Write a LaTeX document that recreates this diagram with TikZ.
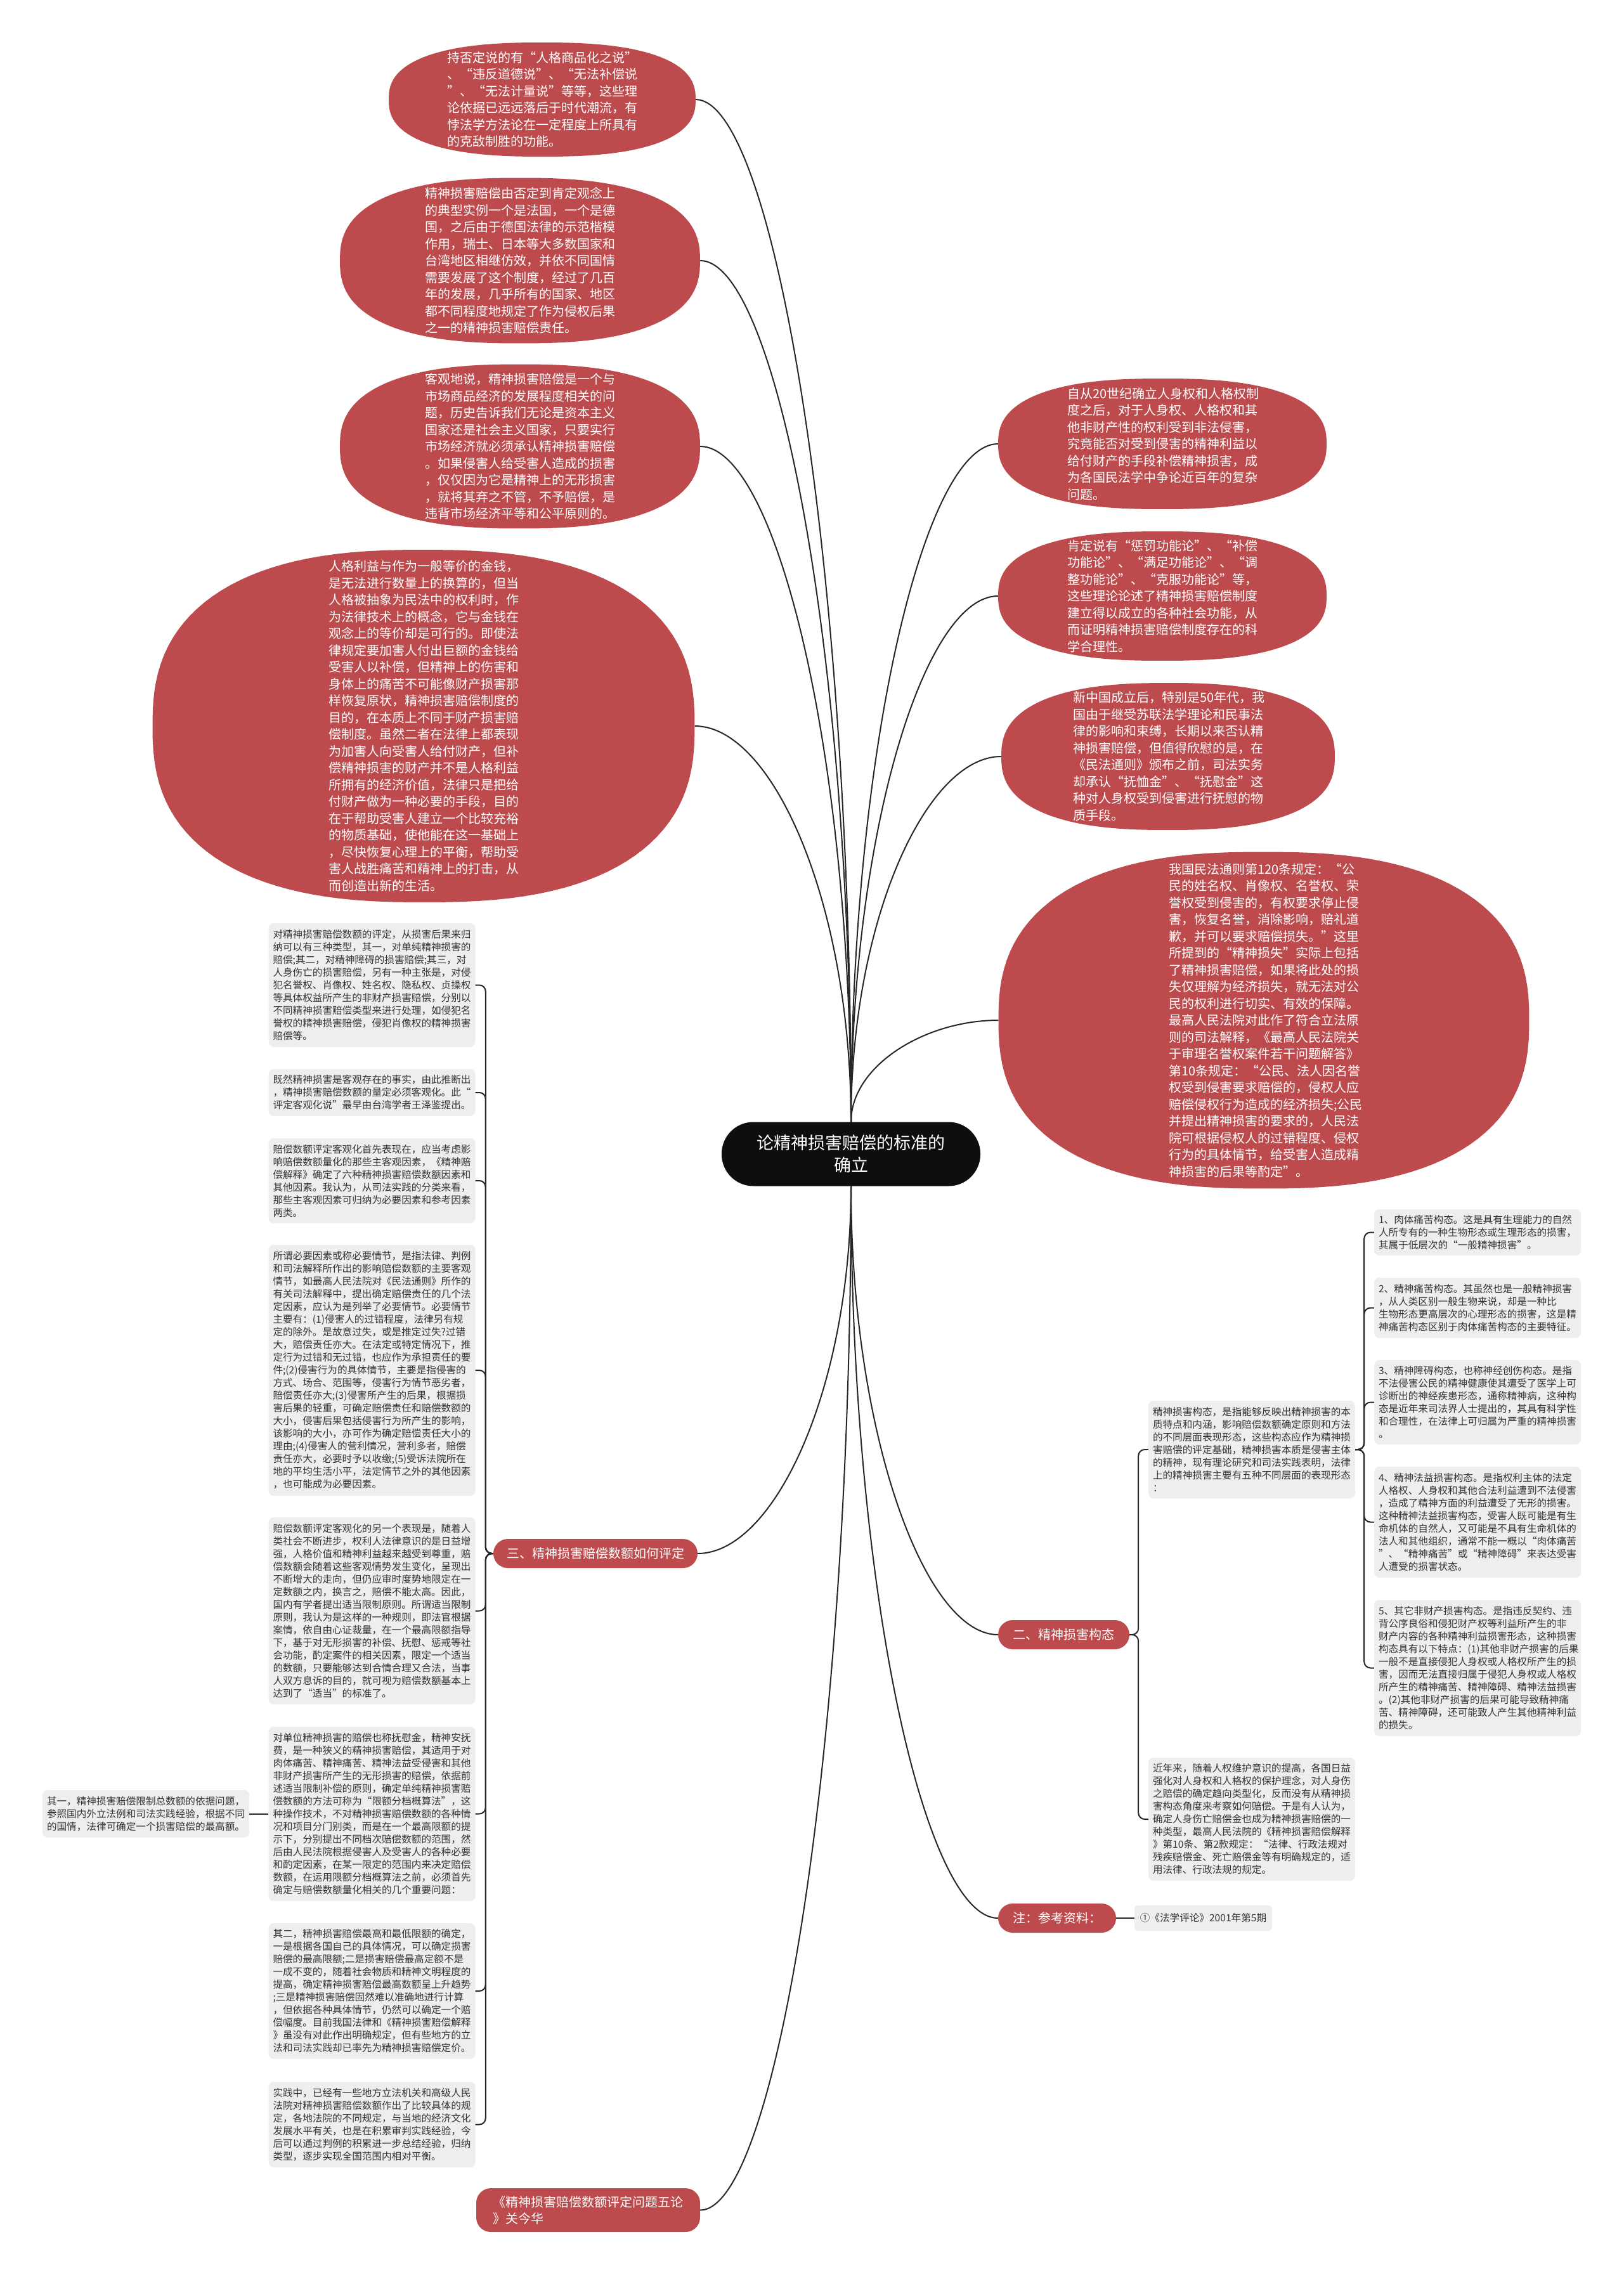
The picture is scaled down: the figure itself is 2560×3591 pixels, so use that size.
\documentclass[tikz,border=0pt]{standalone}
\usepackage{fontspec}
\setmainfont{Noto Sans CJK SC}
\usetikzlibrary{calc}
\definecolor{leaf}{RGB}{189,75,77}
\definecolor{cardgray}{RGB}{238,238,238}
\definecolor{ink}{RGB}{51,51,51}
\definecolor{rootblack}{RGB}{14,14,14}
\newcommand\cardfont{\fontsize{15.6}{20}\selectfont}
\newcommand\blobfont{\fontsize{20}{26.5}\selectfont}
\newcommand\pillfont{\fontsize{20}{26}\selectfont}
\newcommand\rootfont{\fontsize{27}{35}\selectfont}
% red rounded blob: name, centre x, centre y, width, height; node text follows
\newcommand\blob[5]{%
  \fill[leaf] plot[domain=1:361,samples=121,variable=\t]
    ({#2+#4/2*cos(\t)*abs(cos(\t))^(-0.2)},{#3+#5/2*sin(\t)*abs(sin(\t))^(-0.2)}) -- cycle;
  \node[blobtext,minimum width=#4pt,minimum height=#5pt] (#1) at (#2,#3)}
\tikzset{
  link/.style={draw=black!85,line width=2pt},
  card/.style={fill=cardgray,rounded corners=8pt,text=ink,font=\cardfont,align=left,
    text width=312pt,inner xsep=7pt,inner ysep=0pt,minimum height=#1pt},
  pill/.style={fill=leaf,text=white,font=\pillfont,rounded corners=23pt,align=left,
    minimum height=46pt,minimum width=#1pt,inner sep=0pt},
  blobtext/.style={inner sep=0pt,text=white,font=\blobfont,align=left,text width=300pt},
}

\begin{document}
\begin{tikzpicture}[x=1pt,y=-1pt]
\useasboundingbox (0,0) rectangle (2560,3591);
\fill[white] (0,0) rectangle (2560,3591);

\node[fill=rootblack,text=white,font=\rootfont,rounded corners=50pt,align=center,
  minimum width=408pt,minimum height=101pt] (root) at (1342,1820)
  {论精神损害赔偿的标准的\\确立};

% upper left
\blob{e1}{855}{157}{484}{180} {持否定说的有“人格商品化之说”\\、“违反道德说”、“无法补偿说\\”、“无法计量说”等等，这些理\\论依据已远远落后于时代潮流，有\\悖法学方法论在一定程度上所具有\\的克敌制胜的功能。};
\blob{e2}{820}{411}{568}{261} {精神损害赔偿由否定到肯定观念上\\的典型实例一个是法国，一个是德\\国，之后由于德国法律的示范楷模\\作用，瑞士、日本等大多数国家和\\台湾地区相继仿效，并依不同国情\\需要发展了这个制度，经过了几百\\年的发展，几乎所有的国家、地区\\都不同程度地规定了作为侵权后果\\之一的精神损害赔偿责任。};
\blob{e3}{820}{704}{568}{259} {客观地说，精神损害赔偿是一个与\\市场商品经济的发展程度相关的问\\题，历史告诉我们无论是资本主义\\国家还是社会主义国家，只要实行\\市场经济就必须承认精神损害赔偿\\。如果侵害人给受害人造成的损害\\，仅仅因为它是精神上的无形损害\\，就将其弃之不管，不予赔偿，是\\违背市场经济平等和公平原则的。};
\blob{e4}{668}{1145}{855}{556} {人格利益与作为一般等价的金钱，\\是无法进行数量上的换算的，但当\\人格被抽象为民法中的权利时，作\\为法律技术上的概念，它与金钱在\\观念上的等价却是可行的。即使法\\律规定要加害人付出巨额的金钱给\\受害人以补偿，但精神上的伤害和\\身体上的痛苦不可能像财产损害那\\样恢复原状，精神损害赔偿制度的\\目的，在本质上不同于财产损害赔\\偿制度。虽然二者在法律上都表现\\为加害人向受害人给付财产，但补\\偿精神损害的财产并不是人格利益\\所拥有的经济价值，法律只是把给\\付财产做为一种必要的手段，目的\\在于帮助受害人建立一个比较充裕\\的物质基础，使他能在这一基础上\\，尽快恢复心理上的平衡，帮助受\\害人战胜痛苦和精神上的打击，从\\而创造出新的生活。};

% upper right
\blob{r1}{1833}{700}{518}{206} {自从20世纪确立人身权和人格权制\\度之后，对于人身权、人格权和其\\他非财产性的权利受到非法侵害，\\究竟能否对受到侵害的精神利益以\\给付财产的手段补偿精神损害，成\\为各国民法学中争论近百年的复杂\\问题。};
\blob{r2}{1833}{940}{518}{204} {肯定说有“惩罚功能论”、“补偿\\功能论”、“满足功能论”、“调\\整功能论”、“克服功能论”等，\\这些理论论述了精神损害赔偿制度\\建立得以成立的各种社会功能，从\\而证明精神损害赔偿制度存在的科\\学合理性。};
\blob{r3}{1842}{1193}{526}{232} {新中国成立后，特别是50年代，我\\国由于继受苏联法学理论和民事法\\律的影响和束缚，长期以来否认精\\神损害赔偿，但值得欣慰的是，在\\《民法通则》颁布之前，司法实务\\却承认“抚恤金”、“抚慰金”这\\种对人身权受到侵害进行抚慰的物\\质手段。};
\blob{r4}{1993}{1609}{837}{531} {我国民法通则第120条规定：“公\\民的姓名权、肖像权、名誉权、荣\\誉权受到侵害的，有权要求停止侵\\害，恢复名誉，消除影响，赔礼道\\歉，并可以要求赔偿损失。”这里\\所提到的“精神损失”实际上包括\\了精神损害赔偿，如果将此处的损\\失仅理解为经济损失，就无法对公\\民的权利进行切实、有效的保障。\\最高人民法院对此作了符合立法原\\则的司法解释，《最高人民法院关\\于审理名誉权案件若干问题解答》\\第10条规定：“公民、法人因名誉\\权受到侵害要求赔偿的，侵权人应\\赔偿侵权行为造成的经济损失;公民\\并提出精神损害的要求的，人民法\\院可根据侵权人的过错程度、侵权\\行为的具体情节，给受害人造成精\\神损害的后果等酌定”。};

% branches
\node[pill=322] (three) at (939,2450) {三、精神损害赔偿数额如何评定};
\node[pill=207] (two) at (1677.5,2578) {二、精神损害构态};
\node[pill=186] (note) at (1667,3025) {注：参考资料：};
\node[pill=353,minimum height=69pt] (bib) at (927.5,3485.5) {《精神损害赔偿数额评定问题五论\\》关今华};

% left column
\node[card=195] (b1) at (586.5,1553.5) {对精神损害赔偿数额的评定，从损害后果来归\\纳可以有三种类型，其一，对单纯精神损害的\\赔偿;其二，对精神障碍的损害赔偿;其三，对\\人身伤亡的损害赔偿，另有一种主张是，对侵\\犯名誉权、肖像权、姓名权、隐私权、贞操权\\等具体权益所产生的非财产损害赔偿，分别以\\不同精神损害赔偿类型来进行处理，如侵犯名\\誉权的精神损害赔偿，侵犯肖像权的精神损害\\赔偿等。};
\node[card=74] (b2) at (586.5,1723) {既然精神损害是客观存在的事实，由此推断出\\，精神损害赔偿数额的量定必须客观化。此“\\评定客观化说”最早由台湾学者王泽鉴提出。};
\node[card=134] (b3) at (586.5,1862) {赔偿数额评定客观化首先表现在，应当考虑影\\响赔偿数额量化的那些主客观因素，《精神赔\\偿解释》确定了六种精神损害赔偿数额因素和\\其他因素。我认为，从司法实践的分类来看，\\那些主客观因素可归纳为必要因素和参考因素\\两类。};
\node[card=396] (b4) at (586.5,2161) {所谓必要因素或称必要情节，是指法律、判例\\和司法解释所作出的影响赔偿数额的主要客观\\情节，如最高人民法院对《民法通则》所作的\\有关司法解释中，提出确定赔偿责任的几个法\\定因素，应认为是列举了必要情节。必要情节\\主要有：(1)侵害人的过错程度，法律另有规\\定的除外。是故意过失，或是推定过失?过错\\大，赔偿责任亦大。在法定或特定情况下，推\\定行为过错和无过错，也应作为承担责任的要\\件;(2)侵害行为的具体情节，主要是指侵害的\\方式、场合、范围等，侵害行为情节恶劣者，\\赔偿责任亦大;(3)侵害所产生的后果，根据损\\害后果的轻重，可确定赔偿责任和赔偿数额的\\大小，侵害后果包括侵害行为所产生的影响，\\该影响的大小，亦可作为确定赔偿责任大小的\\理由;(4)侵害人的营利情况，营利多者，赔偿\\责任亦大，必要时予以收缴;(5)受诉法院所在\\地的平均生活小平，法定情节之外的其他因素\\，也可能成为必要因素。};
\node[card=295] (b5) at (586.5,2540.5) {赔偿数额评定客观化的另一个表现是，随着人\\类社会不断进步，权利人法律意识的是日益增\\强，人格价值和精神利益越来越受到尊重，赔\\偿数额会随着这些客观情势发生变化，呈现出\\不断增大的走向，但仍应审时度势地限定在一\\定数额之内，换言之，赔偿不能太高。因此，\\国内有学者提出适当限制原则。所谓适当限制\\原则，我认为是这样的一种规则，即法官根据\\案情，依自由心证裁量，在一个最高限额指导\\下，基于对无形损害的补偿、抚慰、惩戒等社\\会功能，酌定案件的相关因素，限定一个适当\\的数额，只要能够达到合情合理又合法，当事\\人双方息诉的目的，就可视为赔偿数额基本上\\达到了“适当”的标准了。};
\node[card=275] (b6) at (586.5,2860.5) {对单位精神损害的赔偿也称抚慰金，精神安抚\\费，是一种狭义的精神损害赔偿，其适用于对\\肉体痛苦、精神痛苦、精神法益受侵害和其他\\非财产损害所产生的无形损害的赔偿，依据前\\述适当限制补偿的原则，确定单纯精神损害赔\\偿数额的方法可称为“限额分档概算法”，这\\种操作技术，不对精神损害赔偿数额的各种情\\况和项目分门别类，而是在一个最高限额的提\\示下，分别提出不同档次赔偿数额的范围，然\\后由人民法院根据侵害人及受害人的各种必要\\和酌定因素，在某一限定的范围内来决定赔偿\\数额，在运用限额分档概算法之前，必须首先\\确定与赔偿数额量化相关的几个重要问题：};
\node[card=214] (b7) at (586.5,3140) {其二，精神损害赔偿最高和最低限额的确定，\\一是根据各国自己的具体情况，可以确定损害\\赔偿的最高限额;二是损害赔偿最高定额不是\\一成不变的，随着社会物质和精神文明程度的\\提高，确定精神损害赔偿最高数额呈上升趋势\\;三是精神损害赔偿固然难以准确地进行计算\\，但依据各种具体情节，仍然可以确定一个赔\\偿幅度。目前我国法律和《精神损害赔偿解释\\》虽没有对此作出明确规定，但有些地方的立\\法和司法实践却已率先为精神损害赔偿定价。};
\node[card=135] (b8) at (586.5,3350.5) {实践中，已经有一些地方立法机关和高级人民\\法院对精神损害赔偿数额作出了比较具体的规\\定，各地法院的不同规定，与当地的经济文化\\发展水平有关，也是在积累审判实践经验，今\\后可以通过判例的积累进一步总结经验，归纳\\类型，逐步实现全国范围内相对平衡。};
\node[card=75] (far) at (230,2860.5) {其一，精神损害赔偿限制总数额的依据问题，\\参照国内外立法例和司法实践经验，根据不同\\的国情，法律可确定一个损害赔偿的最高额。};

% right side
\node[card=154] (d1) at (1974,2286) {精神损害构态，是指能够反映出精神损害的本\\质特点和内涵，影响赔偿数额确定原则和方法\\的不同层面表现形态，这些构态应作为精神损\\害赔偿的评定基础，精神损害本质是侵害主体\\的精神，现有理论研究和司法实践表明，法律\\上的精神损害主要有五种不同层面的表现形态\\：};
\node[card=194] (d2) at (1974,2869) {近年来，随着人权维护意识的提高，各国日益\\强化对人身权和人格权的保护理念，对人身伤\\之赔偿的确定趋向类型化，反而没有从精神损\\害构态角度来考察如何赔偿。于是有人认为，\\确定人身伤亡赔偿金也成为精神损害赔偿的一\\种类型，最高人民法院的《精神损害赔偿解释\\》第10条、第2款规定：“法律、行政法规对\\残疾赔偿金、死亡赔偿金等有明确规定的，适\\用法律、行政法规的规定。};
\node[card=73] (c1) at (2330,1943.5) {1、肉体痛苦构态。这是具有生理能力的自然\\人所专有的一种生物形态或生理形态的损害，\\其属于低层次的“一般精神损害”。};
\node[card=95] (c2) at (2330,2062.5) {2、精神痛苦构态。其虽然也是一般精神损害\\，从人类区别一般生物来说，却是一种比\\生物形态更高层次的心理形态的损害，这是精\\神痛苦构态区别于肉体痛苦构态的主要特征。};
\node[card=133] (c3) at (2330,2211.5) {3、精神障碍构态，也称神经创伤构态。是指\\不法侵害公民的精神健康使其遭受了医学上可\\诊断出的神经疾患形态，通称精神病，这种构\\态是近年来司法界人士提出的，其具有科学性\\和合理性，在法律上可归属为严重的精神损害\\。};
\node[card=175] (c4) at (2330,2400.5) {4、精神法益损害构态。是指权利主体的法定\\人格权、人身权和其他合法利益遭到不法侵害\\，造成了精神方面的利益遭受了无形的损害。\\这种精神法益损害构态，受害人既可能是有生\\命机体的自然人，又可能是不具有生命机体的\\法人和其他组织，通常不能一概以“肉体痛苦\\”、“精神痛苦”或“精神障碍”来表达受害\\人遭受的损害状态。};
\node[card=215] (c5) at (2330,2630.5) {5、其它非财产损害构态。是指违反契约、违\\背公序良俗和侵犯财产权等利益所产生的非\\财产内容的各种精神利益损害形态，这种损害\\构态具有以下特点：(1)其他非财产损害的后果\\一般不是直接侵犯人身权或人格权所产生的损\\害，因而无法直接归属于侵犯人身权或人格权\\所产生的精神痛苦、精神障碍、精神法益损害\\。(2)其他非财产损害的后果可能导致精神痛\\苦、精神障碍，还可能致人产生其他精神利益\\的损失。};
\node[fill=cardgray,rounded corners=6pt,text=ink,font=\cardfont,minimum width=217pt,
  minimum height=40pt,inner sep=0pt] (ref) at (1897.5,3025) {①《法学评论》2001年第5期};

% links from the root
\foreach \n in {e1,e2,e3,e4}
  \draw[link] (root.north) .. controls ($(root.north)!0.55!(root.north |- \n.east)$)
    and ($(\n.east)!0.5!(root.north |- \n.east)$) .. (\n.east);
\foreach \n in {r1,r2,r3,r4}
  \draw[link] (root.north) .. controls ($(root.north)!0.55!(root.north |- \n.west)$)
    and ($(\n.west)!0.5!(root.north |- \n.west)$) .. (\n.west);
\foreach \n in {three,bib}
  \draw[link] (root.south) .. controls ($(root.south)!0.55!(root.south |- \n.east)$)
    and ($(\n.east)!0.5!(root.south |- \n.east)$) .. (\n.east);
\foreach \n in {two,note}
  \draw[link] (root.south) .. controls ($(root.south)!0.55!(root.south |- \n.west)$)
    and ($(\n.west)!0.5!(root.south |- \n.west)$) .. (\n.west);

% brackets
\foreach \i in {1,...,8}
  \draw[link,rounded corners=10pt] (three.west) -- ++(-12,0) |- (b\i.east);
\foreach \i in {1,2}
  \draw[link,rounded corners=10pt] (two.east) -- ++(14,0) |- (d\i.west);
\foreach \i in {1,...,5}
  \draw[link,rounded corners=10pt] (d1.east) -- ++(14,0) |- (c\i.west);
\draw[link] (b6.west) -- (far.east);
\draw[link] (note.east) -- (ref.west);
\end{tikzpicture}
\end{document}
